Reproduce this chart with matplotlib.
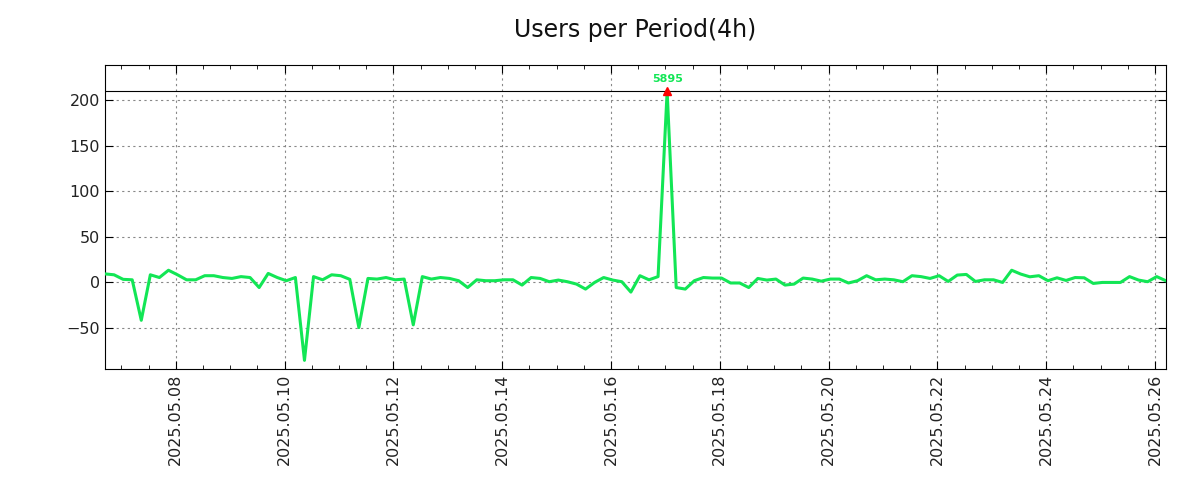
import numpy as np
import pandas as pd
import matplotlib
matplotlib.use("Agg")
import matplotlib.pyplot as plt
import matplotlib.dates as mdates

# 4h periods
start = "2025-05-06 16:48"
users = [
    9, 8, 3, 2.5, -42, 8, 5, 13, 8, 2.5,
    2.5, 7, 7, 5, 4, 6, 5, -6, 9.5, 5,
    1.5, 5, -86, 6, 2.5, 8, 7, 3, -50, 4,
    3.3, 5, 2.5, 3.3, -47, 6, 3.3, 5, 4, 1.5,
    -6, 2.5, 1.5, 1.5, 2.5, 2.5, -3.3, 5, 4, 0.4,
    2.2, 0.4, -2.2, -7.7, -0.4, 5, 2.2, 0.4, -11, 7,
    2.5, 6, 209.5, -6, -7.7, 1.5, 5, 4.4, 4.4, -1,
    -1, -6, 4, 2.2, 3.3, -3.3, -2.2, 4.4, 3.3, 1,
    3.3, 3.3, -1, 1.5, 7, 2.5, 3.3, 2.5, 0.4, 7,
    6, 4, 7, 0.7, 7.7, 8.4, 0.7, 2.5, 2.5, -0.4,
    13, 8.8, 5.8, 7, 1.5, 4.7, 1.8, 5, 4.7, -1.5,
    -0.4, -0.4, -0.4, 6, 2.2, 0.4, 6, 1.5,
]
peak_label = "5895"

times = pd.date_range(start, periods=len(users), freq="4h")
users = np.array(users)
green = "#12e655"

fig = plt.figure(figsize=(12, 5), dpi=100)
ax = fig.add_axes([0.0875, 0.262, 0.884, 0.608])

ax.plot(times, users, color=green, lw=2.2, zorder=3)

# peak marker + level line
imax = int(np.argmax(users))
ax.axhline(users[imax], color="black", lw=0.8, zorder=2)
ax.plot(times[imax], users[imax], marker="^", color="red", ms=6, zorder=4)
ax.annotate(peak_label, (times[imax], users[imax]), xytext=(0, 5),
            textcoords="offset points", ha="center", va="bottom",
            color=green, fontsize=8, fontweight="bold")

ax.set_xlim(times[0], times[-1])
ax.set_ylim(-95.5, 238.5)
ax.set_yticks([-50, 0, 50, 100, 150, 200])

ax.xaxis.set_major_locator(mdates.DayLocator(bymonthday=range(2, 32, 2)))
ax.xaxis.set_minor_locator(mdates.HourLocator(byhour=[0, 12]))
ax.xaxis.set_major_formatter(mdates.DateFormatter("%Y.%m.%d"))
plt.setp(ax.get_xticklabels(), rotation=90)

ax.tick_params(which="both", direction="in", top=True, right=True,
               labelsize=11.5, labelcolor="#222222")
ax.tick_params(which="major", length=6)
ax.tick_params(which="minor", length=3)
ax.grid(True, which="major", ls=(0, (2, 3)), color="#888888", lw=0.8)

# title centred over the axes
pos = ax.get_position()
fig.text((pos.x0 + pos.x1) / 2, 0.94, "Users per Period(4h)", fontsize=17,
         ha="center", va="center", color="#111111")

fig.savefig("out.png")
